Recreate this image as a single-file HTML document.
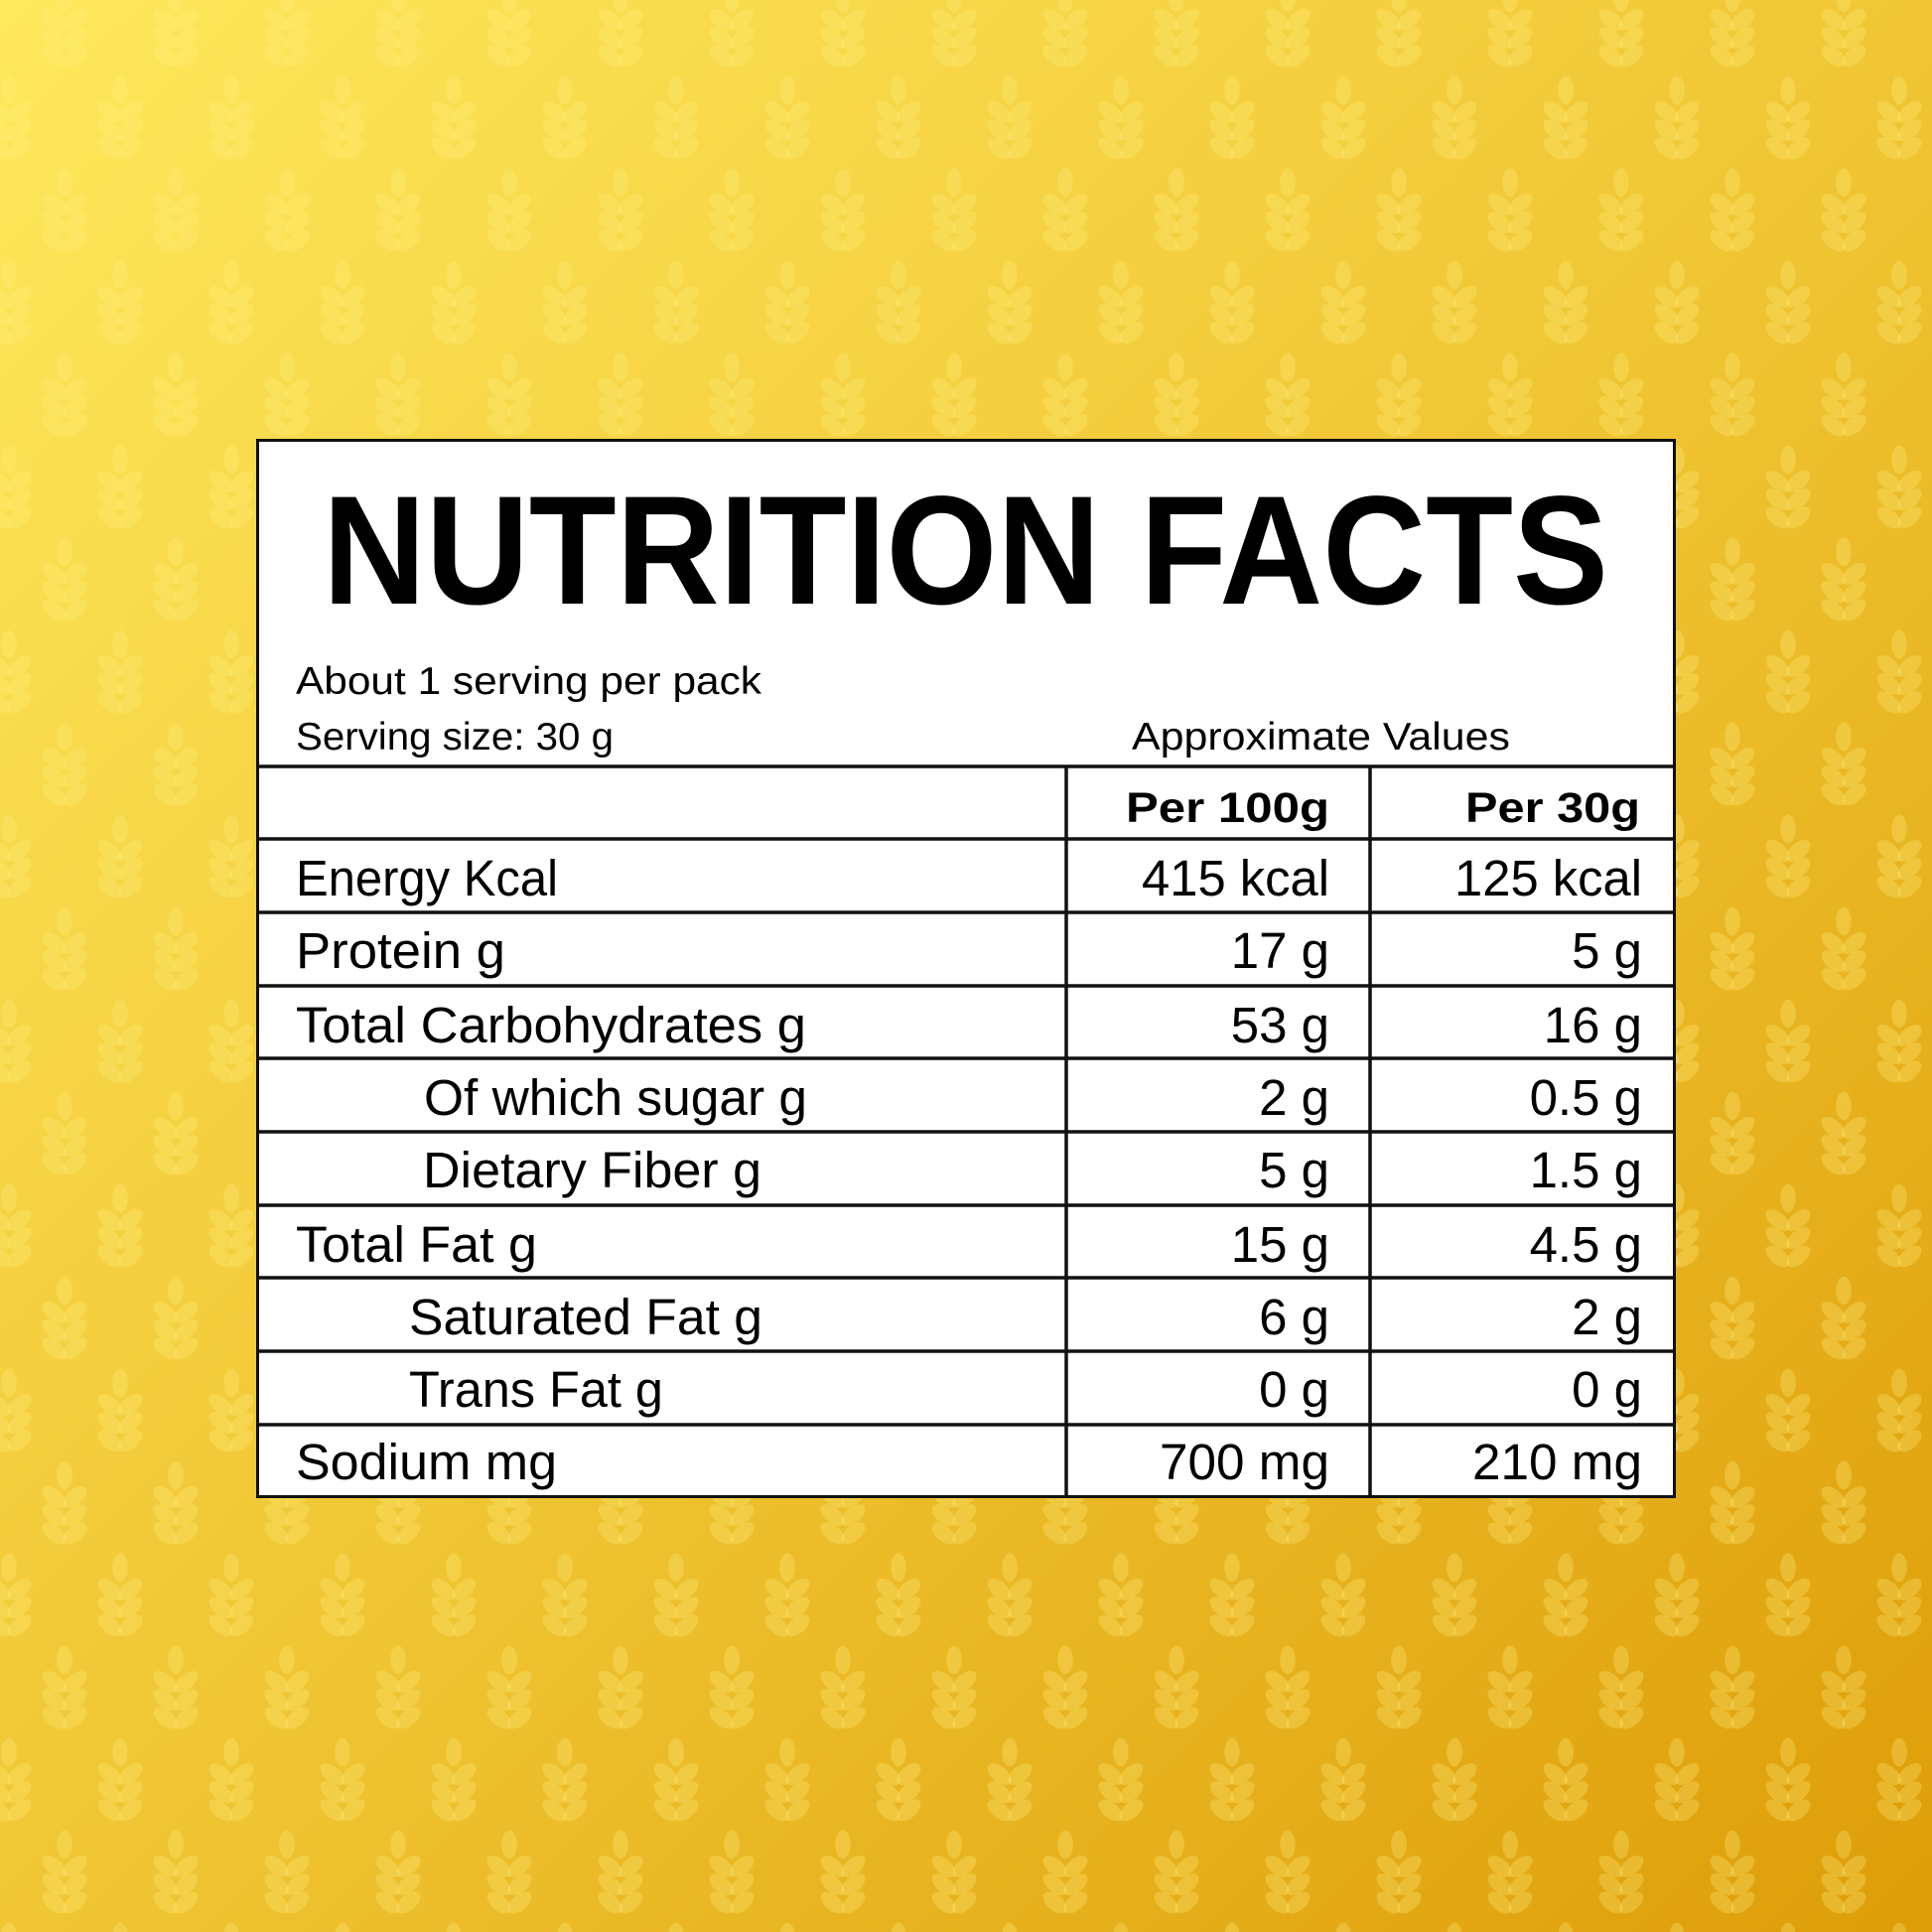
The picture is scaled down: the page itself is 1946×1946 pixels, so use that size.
<!DOCTYPE html>
<html><head><meta charset="utf-8"><style>html,body{margin:0;padding:0;width:1946px;height:1946px;overflow:hidden}</style></head>
<body>
<svg width="1946" height="1946" viewBox="0 0 1946 1946" xmlns="http://www.w3.org/2000/svg">
<defs>
<linearGradient id="bg" x1="0" y1="0" x2="1" y2="1">
<stop offset="0" stop-color="#fee85c"/>
<stop offset="0.5" stop-color="#f0c634"/>
<stop offset="1" stop-color="#dd9d08"/>
</linearGradient>
<g id="wheat0" fill="#fff080" fill-opacity="0.3">
<ellipse cx="0" cy="-27" rx="6" ry="11"/>
<ellipse cx="-8" cy="-10" rx="6" ry="11" transform="rotate(-50 -8 -10)"/>
<ellipse cx="8" cy="-10" rx="6" ry="11" transform="rotate(50 8 -10)"/>
<ellipse cx="-8" cy="4" rx="6" ry="11" transform="rotate(-50 -8 4)"/>
<ellipse cx="8" cy="4" rx="6" ry="11" transform="rotate(50 8 4)"/>
<ellipse cx="-8" cy="18" rx="6" ry="11" transform="rotate(-50 -8 18)"/>
<ellipse cx="8" cy="18" rx="6" ry="11" transform="rotate(50 8 18)"/>
</g>
<g id="wheat"><use href="#wheat0" transform="scale(1.3)"/></g>
<pattern id="pat" x="9" y="33" width="112" height="186" patternUnits="userSpaceOnUse">
<use href="#wheat" x="56" y="0"/>
<use href="#wheat" x="0" y="93"/>
<use href="#wheat" x="112" y="93"/>
<use href="#wheat" x="56" y="186"/>
<use href="#wheat" x="0" y="-93"/>
<use href="#wheat" x="112" y="-93"/>
</pattern>
</defs>
<rect width="1946" height="1946" fill="url(#bg)"/>
<rect width="1946" height="1946" fill="url(#pat)"/>
<rect x="259.5" y="443.5" width="1427" height="1064" fill="#fff" stroke="#111" stroke-width="3"/>
<g stroke="#111" stroke-width="3.5">
<line x1="259" y1="772" x2="1687" y2="772"/>
<line x1="259" y1="845" x2="1687" y2="845"/>
<line x1="259" y1="919" x2="1687" y2="919"/>
<line x1="259" y1="993" x2="1687" y2="993"/>
<line x1="259" y1="1066" x2="1687" y2="1066"/>
<line x1="259" y1="1140" x2="1687" y2="1140"/>
<line x1="259" y1="1214" x2="1687" y2="1214"/>
<line x1="259" y1="1287" x2="1687" y2="1287"/>
<line x1="259" y1="1361" x2="1687" y2="1361"/>
<line x1="259" y1="1435" x2="1687" y2="1435"/>
<line x1="1074" y1="772" x2="1074" y2="1508"/>
<line x1="1380" y1="772" x2="1380" y2="1508"/>
</g>
<g font-family="Liberation Sans, sans-serif" fill="#000">
<text x="325" y="608" font-size="156" font-weight="bold" textLength="1295" lengthAdjust="spacingAndGlyphs">NUTRITION FACTS</text>
<text x="298" y="699" font-size="39" textLength="469" lengthAdjust="spacingAndGlyphs">About 1 serving per pack</text>
<text x="298" y="755" font-size="39" textLength="320" lengthAdjust="spacingAndGlyphs">Serving size: 30 g</text>
<text x="1140" y="755" font-size="39" textLength="381" lengthAdjust="spacingAndGlyphs">Approximate Values</text>
<text x="1339" y="828" font-size="43" font-weight="bold" text-anchor="end" textLength="205" lengthAdjust="spacingAndGlyphs">Per 100g</text>
<text x="1652" y="828" font-size="43" font-weight="bold" text-anchor="end" textLength="176" lengthAdjust="spacingAndGlyphs">Per 30g</text>
<g font-size="51">
<text x="298" y="902" textLength="264" lengthAdjust="spacingAndGlyphs">Energy Kcal</text>
<text x="298" y="975" textLength="211" lengthAdjust="spacingAndGlyphs">Protein g</text>
<text x="298" y="1050" textLength="514" lengthAdjust="spacingAndGlyphs">Total Carbohydrates g</text>
<text x="427" y="1123" textLength="386" lengthAdjust="spacingAndGlyphs">Of which sugar g</text>
<text x="426" y="1196" textLength="341" lengthAdjust="spacingAndGlyphs">Dietary Fiber g</text>
<text x="298" y="1271" textLength="243" lengthAdjust="spacingAndGlyphs">Total Fat g</text>
<text x="412" y="1344" textLength="356" lengthAdjust="spacingAndGlyphs">Saturated Fat g</text>
<text x="412" y="1417" textLength="256" lengthAdjust="spacingAndGlyphs">Trans Fat g</text>
<text x="298" y="1490" textLength="263" lengthAdjust="spacingAndGlyphs">Sodium mg</text>
</g>
<g font-size="51" text-anchor="end">
<text x="1339" y="902" textLength="189" lengthAdjust="spacingAndGlyphs">415 kcal</text>
<text x="1339" y="975">17 g</text>
<text x="1339" y="1050">53 g</text>
<text x="1339" y="1123">2 g</text>
<text x="1339" y="1196">5 g</text>
<text x="1339" y="1271">15 g</text>
<text x="1339" y="1344">6 g</text>
<text x="1339" y="1417">0 g</text>
<text x="1339" y="1490" textLength="171" lengthAdjust="spacingAndGlyphs">700 mg</text>
<text x="1654" y="902" textLength="189" lengthAdjust="spacingAndGlyphs">125 kcal</text>
<text x="1654" y="975">5 g</text>
<text x="1654" y="1050">16 g</text>
<text x="1654" y="1123">0.5 g</text>
<text x="1654" y="1196">1.5 g</text>
<text x="1654" y="1271">4.5 g</text>
<text x="1654" y="1344">2 g</text>
<text x="1654" y="1417">0 g</text>
<text x="1654" y="1490" textLength="171" lengthAdjust="spacingAndGlyphs">210 mg</text>
</g>
</g>
</svg>
</body></html>
